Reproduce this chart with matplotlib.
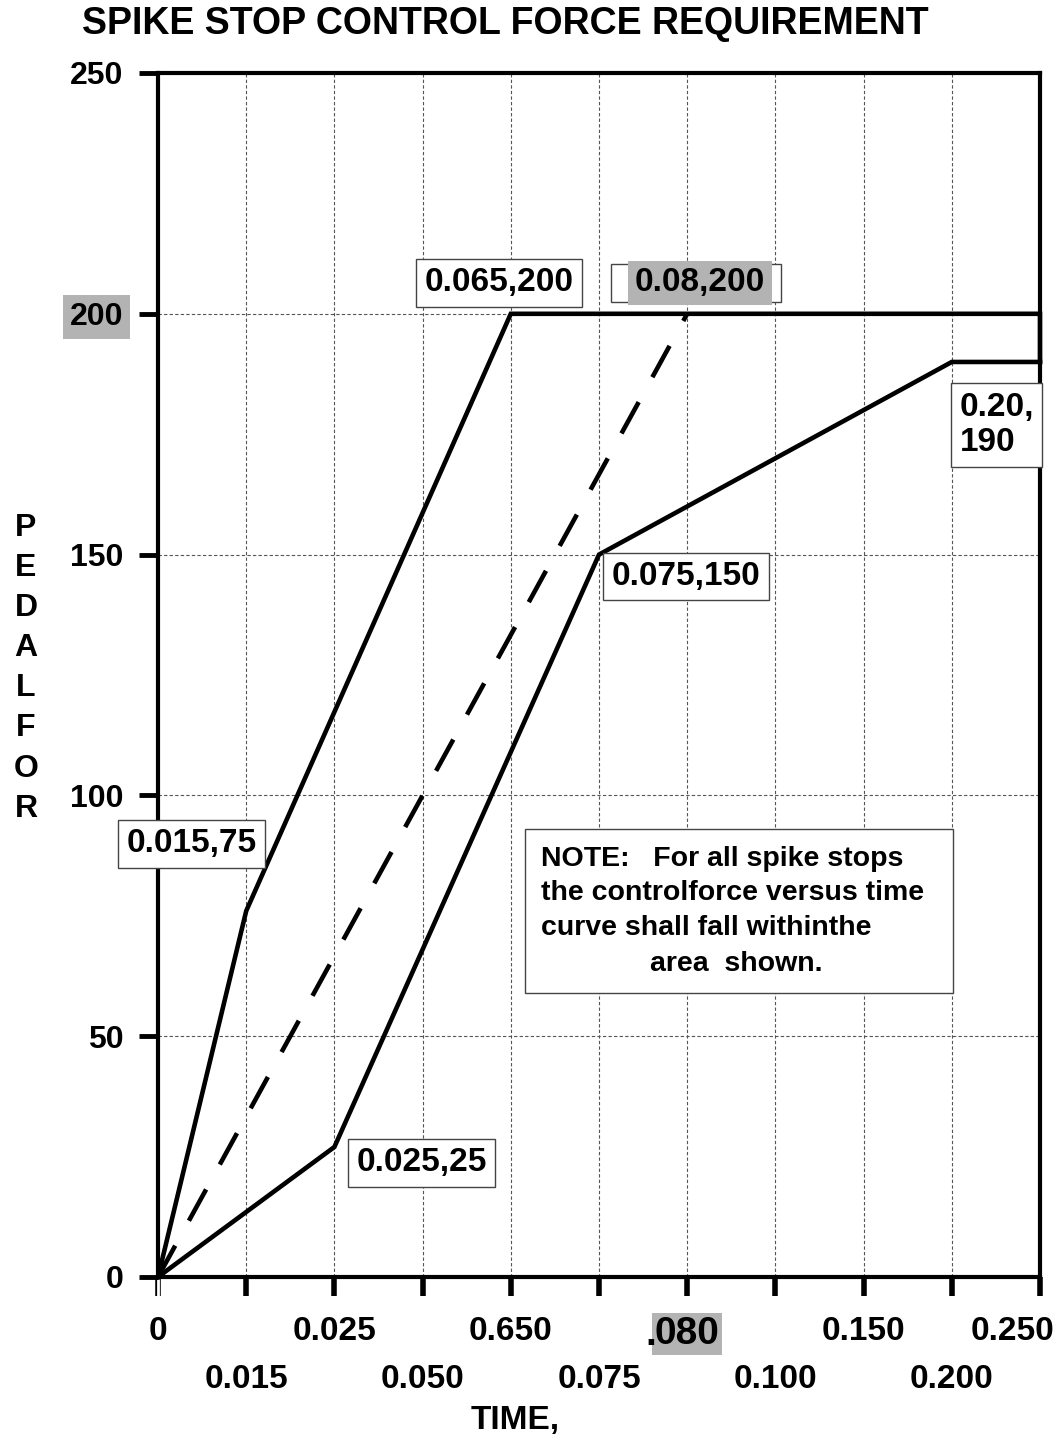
import numpy as np
import matplotlib
matplotlib.use("Agg")
import matplotlib.pyplot as plt
from matplotlib.patches import Rectangle
from matplotlib.transforms import ScaledTranslation, IdentityTransform
import matplotlib.patheffects as pe

plt.rcParams['font.family'] = ['Liberation Sans', 'DejaVu Sans']
plt.rcParams['font.weight'] = 'bold'

# x axis is not linear: each listed time sits on its own equally spaced tick
tick_times = [0, 0.015, 0.025, 0.050, 0.065, 0.075, 0.080, 0.100, 0.150, 0.200, 0.250]
tick_labels = ['0', '0.015', '0.025', '0.050', '0.650', '0.075', '080',
               '0.100', '0.150', '0.200', '0.250']
y_ticks = [0, 50, 100, 150, 200, 250]

# boundary curves (time, pedal force)
upper_t = [0, 0.015, 0.065, 0.250, 0.250]
upper_f = [0, 76, 200, 200, 190]
lower_t = [0, 0.025, 0.075, 0.200, 0.250]
lower_f = [0, 27, 150, 190, 190]
dash_t = [0, 0.080]
dash_f = [0, 200]

# point labels: (text, time, force, offset px)
point_labels = [
    ('0.065,200', 0.065, 200, (-12, 31)),
    ('0.075,150', 0.075, 150, (87, -22)),
    ('0.015,75', 0.015, 76, (-55, 67)),
    ('0.025,25', 0.025, 27, (87, -16)),
    ('0.20,\n190', 0.200, 190, (45, -63)),
]

note_lines = ['NOTE:   For all spike stops', 'the controlforce versus time',
              'curve shall fall withinthe']


def tx(t):
    return np.interp(t, tick_times, np.arange(len(tick_times)))


fig = plt.figure(figsize=(10.61, 14.43), dpi=100)
ax = fig.add_axes([158 / 1061, 1 - 1277 / 1443, 882 / 1061, 1204 / 1443])

ax.plot(tx(upper_t), upper_f, color='black', lw=3.3, clip_on=False, zorder=5,
        solid_joinstyle='miter')
ax.plot(tx(lower_t), lower_f, color='black', lw=3.3, clip_on=False, zorder=5,
        solid_joinstyle='miter')
ax.plot(tx(dash_t), dash_f, color='black', lw=3.3, ls=(0, (7.8, 6.2)), zorder=5,
        dash_capstyle='butt')

ax.set_xlim(0, len(tick_times) - 1)
ax.set_ylim(0, 250)

# grid
for i in range(1, len(tick_times) - 1):
    ax.axvline(i, color='#555555', lw=0.8, ls=(0, (3, 2)), zorder=1)
for v in y_ticks[1:-1]:
    ax.axhline(v, color='#555555', lw=0.8, ls=(0, (3, 2)), zorder=1)

for s in ax.spines.values():
    s.set_linewidth(3)

ax.set_xticks(np.arange(len(tick_times)))
ax.set_xticklabels(tick_labels, fontsize=24, fontweight='bold')
ax.set_yticks(y_ticks)
ax.set_yticklabels([str(v) for v in y_ticks], fontsize=23, fontweight='bold')
ax.tick_params(axis='x', direction='out', length=14, width=4)
ax.tick_params(axis='y', direction='out', length=14, width=3.5, pad=11)

for i, tk in enumerate(ax.xaxis.get_major_ticks()):
    tk.set_pad(14 if i % 2 == 0 else 49)
    if i == 0:
        tk.tick1line.set_markeredgecolor('white')
        tk.tick1line.set_markeredgewidth(2)
        tk.tick1line.set_path_effects([pe.withStroke(linewidth=4, foreground='black')])

# last label is pulled in from the right edge
last = ax.get_xticklabels()[-1]
last.set_transform(last.get_transform() + ScaledTranslation(-28 / 100, 0, fig.dpi_scale_trans))

# highlighted tick labels
lab080 = ax.get_xticklabels()[6]
lab080.set_fontsize(28)
lab080.set_bbox(dict(facecolor='#b3b3b3', edgecolor='none', pad=2))
ax.annotate('.', xy=(6, 0), xycoords=('data', 'axes fraction'), xytext=(-31, -68),
            textcoords='offset pixels', ha='right', va='baseline', fontsize=28,
            fontweight='bold', annotation_clip=False)
lab200 = ax.get_yticklabels()[4]
lab200.set_bbox(dict(facecolor='#b3b3b3', edgecolor='none', pad=5))

box = dict(boxstyle='square,pad=0.25', facecolor='white', edgecolor='#444444', lw=1)
for text, t, f, off in point_labels:
    ax.annotate(text, xy=(tx(t), f), xytext=off, textcoords='offset pixels',
                ha='center', va='center', fontsize=24, fontweight='bold',
                bbox=box, zorder=6, multialignment='left', annotation_clip=False)

# 0.08,200 label: grey highlight over the text, white box around it
hl = ax.annotate('0.08,200', xy=(tx(0.080), 200), xytext=(13, 31), textcoords='offset pixels',
                 ha='center', va='center', fontsize=24, fontweight='bold',
                 bbox=dict(boxstyle='square,pad=0.2', facecolor='#b3b3b3',
                           edgecolor='none'), zorder=8)

# note box
ax.add_patch(Rectangle((0.416, 0.236), 0.485, 0.136, transform=ax.transAxes,
                       facecolor='white', edgecolor='#444444', lw=1, zorder=6))
for k, line in enumerate(note_lines):
    ax.text(0.4342, 0.3475 - 0.0288 * k, line, transform=ax.transAxes, ha='left',
            va='center', fontsize=20.5, fontweight='bold', zorder=7)
ax.text(0.6553, 0.2600, 'area  shown.', transform=ax.transAxes, ha='center',
        va='center', fontsize=20.5, fontweight='bold', zorder=7)

fig.text(82 / 1061, 1 - 24 / 1443, 'SPIKE STOP CONTROL FORCE REQUIREMENT',
         ha='left', va='center', fontsize=27, fontweight='bold')
fig.text(515 / 1061, 1 - 1420 / 1443, 'TIME,', ha='center', va='center',
         fontsize=24, fontweight='bold')
for i, ch in enumerate('PEDALFOR'):
    fig.text(26 / 1061, 1 - (528 + 40.1 * i) / 1443, ch, ha='center', va='center',
             fontsize=23, fontweight='bold')

fig.canvas.draw()
bb = hl.get_bbox_patch().get_window_extent()
ax.add_patch(Rectangle((bb.x0 - 17, bb.y0 + 3), bb.width + 26, bb.height - 6,
                       transform=IdentityTransform(), facecolor='white',
                       edgecolor='#444444', lw=1, zorder=6, clip_on=False))

fig.savefig('out.png', dpi=100)
